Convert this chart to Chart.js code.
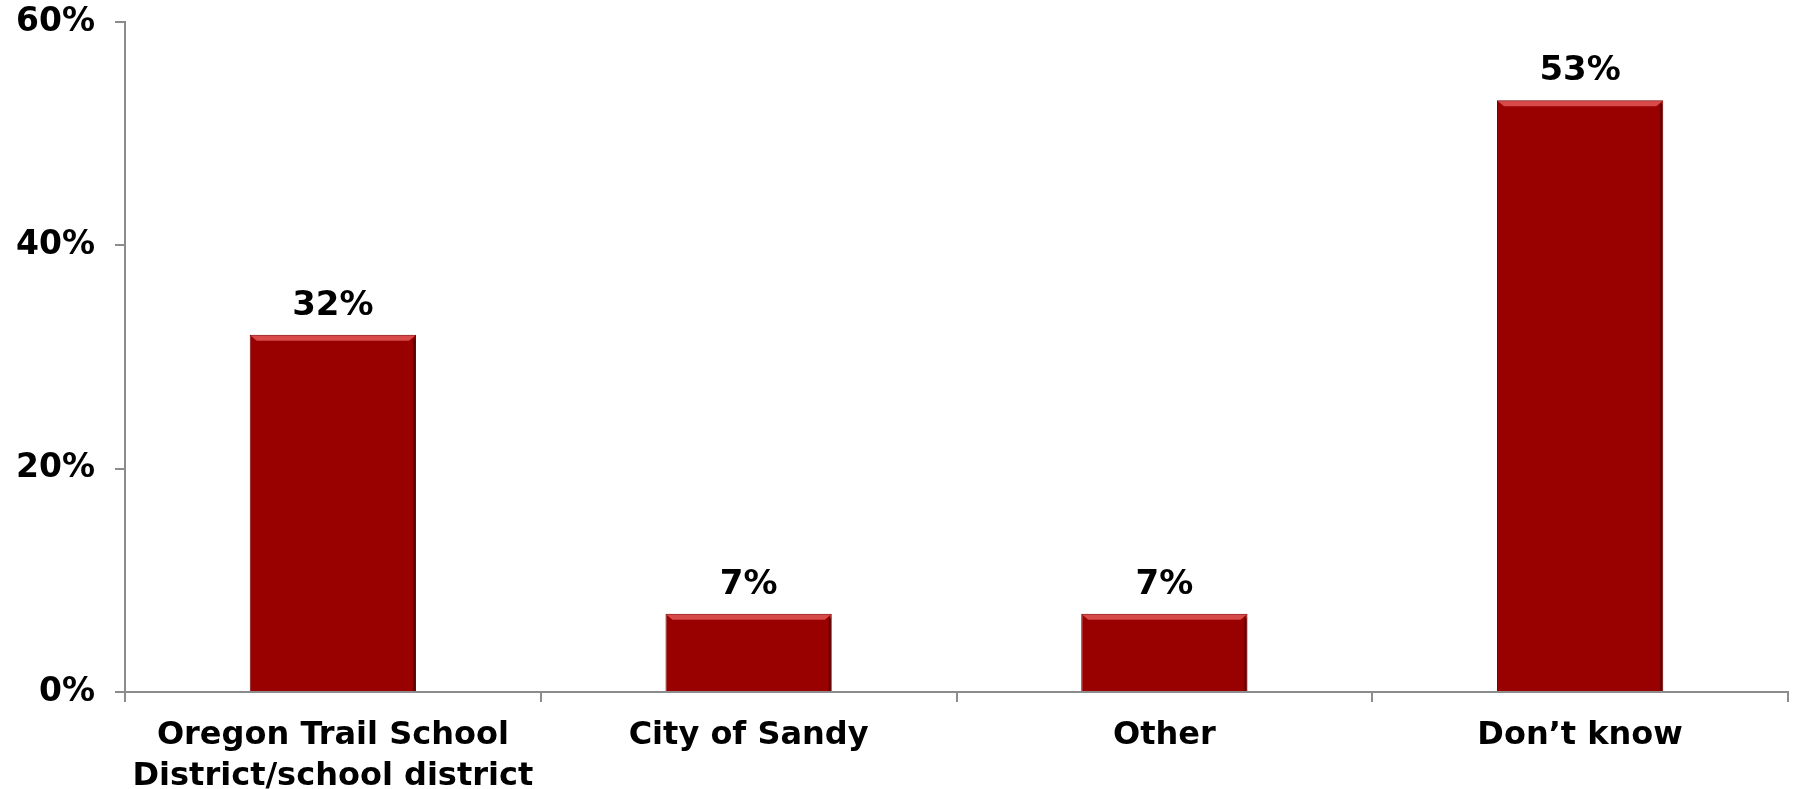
<!DOCTYPE html>
<html>
<head>
<meta charset="utf-8">
<script src="https://cdn.jsdelivr.net/npm/chart.js@4/dist/chart.umd.min.js"></script>
<style>
  html, body { margin: 0; padding: 0; background: #fff; }
  #wrap { width: 1796px; height: 789px; position: relative; }
</style>
</head>
<body>
<div id="wrap"><canvas id="chart"></canvas></div>
<script>
const categories = [
  ['Oregon Trail School', 'District/school district'],
  'City of Sandy',
  'Other',
  'Don\u2019t know'
];
const values = [32, 7, 7, 53];
const yTicks = [0, 20, 40, 60];

const FONT = '"DejaVu Sans", Verdana, sans-serif';

// value labels above each bar
const barLabels = {
  id: 'barLabels',
  afterDatasetsDraw(chart) {
    const ctx = chart.ctx;
    const meta = chart.getDatasetMeta(0);
    ctx.save();
    ctx.font = 'bold 34px ' + FONT;
    ctx.fillStyle = '#000';
    ctx.textAlign = 'center';
    ctx.textBaseline = 'alphabetic';
    meta.data.forEach((bar, i) => {
      ctx.fillText(values[i] + '%', bar.x, bar.y - 20);
    });
    ctx.restore();
  }
};

// light bevel strip on top of each bar
const bevel = {
  id: 'bevel',
  afterDatasetsDraw(chart) {
    const ctx = chart.ctx;
    const meta = chart.getDatasetMeta(0);
    ctx.save();
    meta.data.forEach(bar => {
      const half = bar.width / 2;
      const l = bar.x - half, r = bar.x + half, t = bar.y;
      ctx.fillStyle = '#d84a4a';
      ctx.beginPath();
      ctx.moveTo(l + 1, t + 1);
      ctx.lineTo(r - 1, t + 1);
      ctx.lineTo(r - 7, t + 6);
      ctx.lineTo(l + 7, t + 6);
      ctx.closePath();
      ctx.fill();
      ctx.fillStyle = '#5a0000';
      ctx.fillRect(r - 3, t + 4, 2, chart.scales.y.getPixelForValue(0) - t - 5);
    });
    ctx.restore();
  }
};

new Chart(document.getElementById('chart'), {
  type: 'bar',
  data: {
    labels: categories,
    datasets: [{
      data: values,
      backgroundColor: '#990000',
      borderColor: '#7a0000',
      borderWidth: 1,
      barPercentage: 0.4,
      categoryPercentage: 1.0
    }]
  },
  options: {
    responsive: true,
    maintainAspectRatio: false,
    animation: false,
    layout: { padding: { top: 0, right: 8, left: 0, bottom: 0 } },
    plugins: {
      legend: { display: false },
      tooltip: { enabled: false }
    },
    scales: {
      y: {
        min: 0,
        max: 60,
        afterBuildTicks(scale) {
          scale.ticks = yTicks.map(v => ({ value: v }));
        },
        afterFit(scale) {
          scale.width = 125;
          scale.paddingTop = 22;
        },
        ticks: {
          callback: v => v + '%',
          color: '#000',
          padding: 20,
          font: { family: FONT, size: 33, weight: 'bold' }
        },
        grid: {
          drawOnChartArea: false,
          drawTicks: true,
          tickLength: 10,
          color: '#8c8c8c',
          lineWidth: 2
        },
        border: { color: '#8c8c8c', width: 2 }
      },
      x: {
        afterFit(scale) { scale.height = 97; },
        ticks: {
          color: '#000',
          padding: 14,
          maxRotation: 0,
          autoSkip: false,
          font: { family: FONT, size: 32, weight: 'bold', lineHeight: 1.26 }
        },
        grid: {
          offset: true,
          drawOnChartArea: false,
          drawTicks: true,
          tickLength: 10,
          color: '#8c8c8c',
          lineWidth: 2
        },
        border: { color: '#8c8c8c', width: 2 }
      }
    }
  },
  plugins: [bevel, barLabels]
});
</script>
</body>
</html>
